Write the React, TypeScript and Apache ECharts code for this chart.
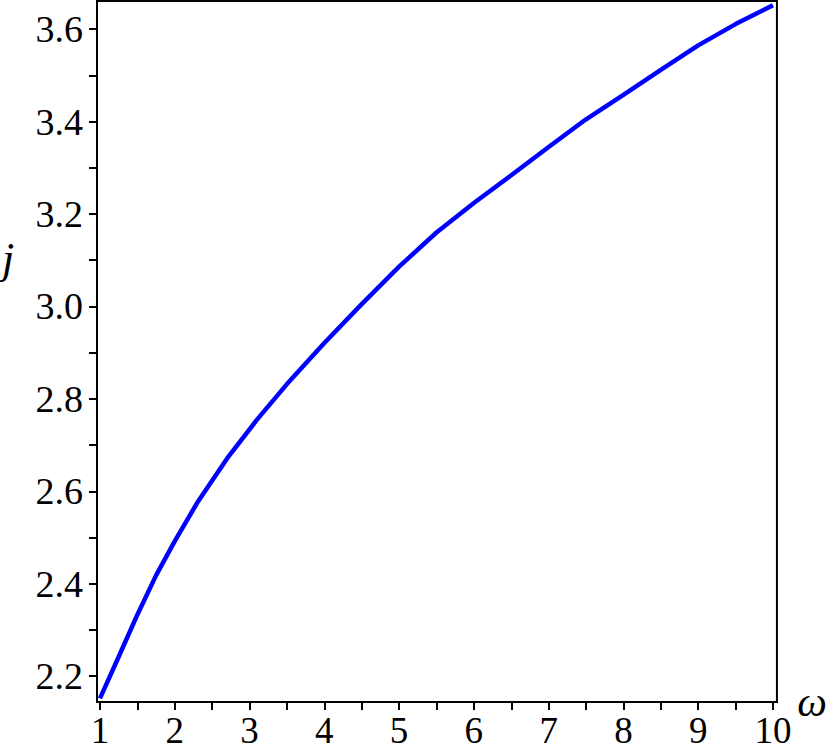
import React, { useEffect, useRef } from "react";
import * as echarts from "echarts";

const omega = [1, 1.25, 1.5, 1.75, 2, 2.3, 2.7, 3.1, 3.5, 4, 4.5, 5, 5.5, 6, 6.5, 7, 7.5, 8, 8.5, 9, 9.5, 10];
const jValues = [2.152, 2.242, 2.333, 2.418, 2.492, 2.575, 2.671, 2.755, 2.832, 2.921, 3.005, 3.086, 3.16, 3.224, 3.284, 3.345, 3.405, 3.458, 3.512, 3.565, 3.611, 3.652];

const xTickLabels = [1, 2, 3, 4, 5, 6, 7, 8, 9, 10];
const xMinorTicks = [1, 1.5, 2, 2.5, 3, 3.5, 4, 4.5, 5, 5.5, 6, 6.5, 7, 7.5, 8, 8.5, 9, 9.5, 10];
const yTickLabels = [2.2, 2.4, 2.6, 2.8, 3.0, 3.2, 3.4, 3.6];
const yMinorTicks = [2.2, 2.3, 2.4, 2.5, 2.6, 2.7, 2.8, 2.9, 3.0, 3.1, 3.2, 3.3, 3.4, 3.5, 3.6];

const FONT = "Liberation Serif";

export default function App() {
  const ref = useRef<HTMLDivElement>(null);
  useEffect(() => {
    if (!ref.current) return;
    const chart = echarts.init(ref.current, undefined, { renderer: "svg" });
    chart.setOption({
      animation: false,
      backgroundColor: "#ffffff",
      grid: {
        left: 97,
        right: 50,
        top: 1,
        bottom: 49,
        show: true,
        borderColor: "#000",
        borderWidth: 2,
        backgroundColor: "transparent",
      },
      xAxis: {
        type: "value",
        min: 0.96,
        max: 10.053,
        name: "ω",
        nameLocation: "end",
        nameGap: 12,
        nameTextStyle: {
          fontFamily: FONT,
          fontSize: 42,
          fontStyle: "italic",
          color: "#000",
          verticalAlign: "middle",
        },
        axisLine: { show: true, onZero: false, lineStyle: { color: "#000", width: 2 } },
        axisTick: {
          show: true,
          inside: false,
          length: 8,
          customValues: xMinorTicks,
          lineStyle: { color: "#000", width: 2 },
        },
        axisLabel: {
          customValues: xTickLabels,
          margin: 10,
          fontFamily: FONT,
          fontSize: 37,
          lineHeight: 37,
          color: "#000",
          showMinLabel: true,
          showMaxLabel: true,
        },
        splitLine: { show: false },
      },
      yAxis: {
        type: "value",
        min: 2.144,
        max: 3.661,
        axisLine: { show: true, onZero: false, lineStyle: { color: "#000", width: 2 } },
        axisTick: {
          show: true,
          inside: false,
          length: 8,
          customValues: yMinorTicks,
          lineStyle: { color: "#000", width: 2 },
        },
        axisLabel: {
          customValues: yTickLabels,
          margin: 14,
          fontFamily: FONT,
          fontSize: 38,
          color: "#000",
          formatter: (v: number) => v.toFixed(1),
        },
        splitLine: { show: false },
      },
      graphic: [
        {
          type: "text",
          left: 2,
          top: 236,
          style: {
            text: "j",
            fontFamily: FONT,
            fontSize: 44,
            fontStyle: "italic",
            fill: "#000",
          },
        },
      ],
      series: [
        {
          type: "line",
          data: omega.map((w, i) => [w, jValues[i]]),
          showSymbol: false,
          smooth: false,
          lineStyle: { color: "#0000ff", width: 4.5 },
          clip: true,
        },
      ],
    });
    return () => chart.dispose();
  }, []);
  return (
    <div
      ref={ref}
      style={{ position: "fixed", left: 0, top: 0, width: 830, height: 751, background: "#fff" }}
    />
  );
}
